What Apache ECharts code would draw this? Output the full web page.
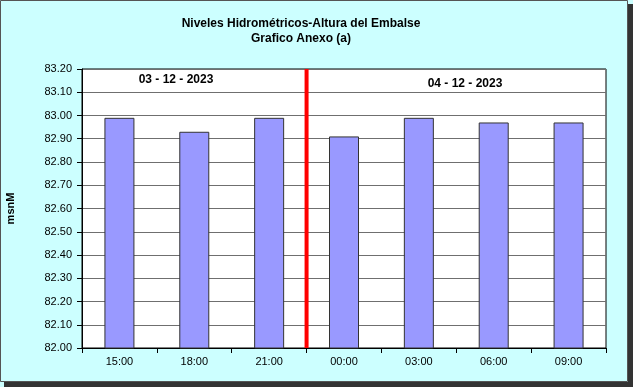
<!DOCTYPE html>
<html>
<head>
<meta charset="utf-8">
<script src="https://cdn.jsdelivr.net/npm/echarts@6/dist/echarts.min.js"></script>
<style>
html,body{margin:0;padding:0;background:#ffffff;}
#chart{width:633px;height:387px;}
</style>
</head>
<body>
<div id="chart"></div>
<script>
var categories = ['15:00', '18:00', '21:00', '00:00', '03:00', '06:00', '09:00'];
var levels = [82.99, 82.93, 82.99, 82.91, 82.99, 82.97, 82.97];
var dividerIndex = 3; // boundary between 21:00 and 00:00
var dateLabels = ['03 - 12 - 2023', '04 - 12 - 2023'];
var titleLines = ['Niveles Hidrométricos-Altura del Embalse', 'Grafico Anexo (a)'];
var yMin = 82.0, yMax = 83.2, yStep = 0.1;

var chart = echarts.init(document.getElementById('chart'), null, {renderer: 'canvas'});
var font = 'Arial, "Liberation Sans", sans-serif';

chart.setOption({
  backgroundColor: '#CCFFFF',
  animation: false,
  grid: {left: 82, top: 69, right: 27, bottom: 39, containLabel: false, outerBoundsMode: 'none', show: true, backgroundColor: '#ffffff', borderColor: '#000000', borderWidth: 1},
  xAxis: [{
    type: 'category',
    data: categories,
    boundaryGap: true,
    axisLine: {lineStyle: {color: '#000000', width: 1}},
    axisTick: {show: true, length: 5, lineStyle: {color: '#000000'}},
    axisLabel: {color: '#000000', fontFamily: font, fontSize: 11, margin: 8},
    splitLine: {show: false}
  }, {
    type: 'value',
    min: 0, max: categories.length,
    show: false
  }],
  yAxis: {
    type: 'value',
    min: yMin, max: yMax, interval: yStep,
    name: 'msnM',
    nameLocation: 'middle',
    nameRotate: 90,
    nameGap: 66,
    nameTextStyle: {fontFamily: font, fontSize: 11, fontWeight: 'bold', color: '#000000'},
    axisLine: {show: true, lineStyle: {color: '#000000', width: 1}},
    axisTick: {show: true, length: 5, lineStyle: {color: '#000000'}},
    axisLabel: {color: '#000000', fontFamily: font, fontSize: 11, margin: 10, formatter: function (v) { return v.toFixed(2); }},
    splitLine: {show: true, lineStyle: {color: '#6f6f6f', width: 1}}
  },
  series: [{
    type: 'bar',
    data: levels,
    barWidth: 30,
    itemStyle: {color: '#9999FF', borderColor: '#333333', borderWidth: 1}
  }, {
    type: 'line',
    xAxisIndex: 1,
    data: [[dividerIndex, yMin], [dividerIndex, yMax]],
    symbol: 'none',
    lineStyle: {color: '#FF0000', width: 4},
    z: 5
  }],
  graphic: [
    {type: 'text', x: 301, y: 18, style: {text: titleLines[0], font: 'bold 12px ' + font, fill: '#000000', textAlign: 'center'}},
    {type: 'text', x: 301, y: 33, style: {text: titleLines[1], font: 'bold 12px ' + font, fill: '#000000', textAlign: 'center'}},
    {type: 'text', x: 176, y: 74, style: {text: dateLabels[0], font: 'bold 12px ' + font, fill: '#000000', textAlign: 'center'}, z: 10},
    {type: 'text', x: 465, y: 78, style: {text: dateLabels[1], font: 'bold 12px ' + font, fill: '#000000', textAlign: 'center'}, z: 10},
    {type: 'rect', shape: {x: 628, y: 4, width: 5, height: 383}, style: {fill: '#333333'}, silent: true},
    {type: 'rect', shape: {x: 4, y: 382, width: 629, height: 5}, style: {fill: '#333333'}, silent: true},
    {type: 'rect', shape: {x: 0.5, y: 0.5, width: 627, height: 381}, style: {fill: 'none', stroke: '#555555', lineWidth: 1}, silent: true}
  ]
});
</script>
</body>
</html>
